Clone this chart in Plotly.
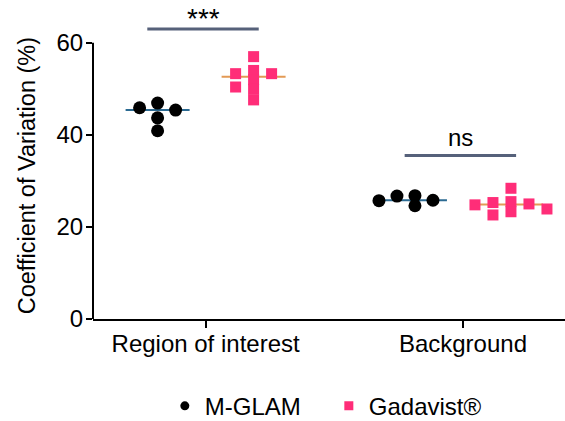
import plotly.graph_objects as go

# ---------------- data ----------------
categories = ["Region of interest", "Background"]
series_names = ["M-GLAM", "Gadavist®"]
mglam_roi = [45.9, 46.9, 45.4, 43.7, 40.9]
mglam_bg = [25.7, 26.8, 25.8, 26.7, 24.6]
gad_roi = [57.0, 54.0, 53.3, 53.3, 52.0, 50.4, 49.9, 47.6]
gad_bg = [28.4, 25.0, 25.5, 24.8, 22.6, 23.3, 23.9, 25.3]
sig_labels = ["***", "ns"]
sig_levels = [63.0, 35.5]
y_ticks = [0, 20, 40, 60]
y_title = "Coefficient of Variation (%)"

# ---------------- layout / style ----------------
W, H = 565, 421
ML, MR, MT, MB = 93, 0, 6, 102
X_RANGE = [-0.4375, 1.3965]
Y_RANGE = [0, 68]
px_x = (W - ML - MR) / (X_RANGE[1] - X_RANGE[0])
px_y = (H - MT - MB) / (Y_RANGE[1] - Y_RANGE[0])

GROUP_OFF = 48 / px_x
MED_HALF = 32 / px_x
FONT = "Liberation Sans, Arial, Helvetica, sans-serif"
FS = 24
PINK = "#FF2D78"
BLUE_LINE = "#2B6A92"
ORANGE_LINE = "#E39A55"
SIG_COLOR = "#56617A"


def swarm(vals, w=18.0, h=9.0, step=9.0):
    """Simple beeswarm: returns x offsets (data units) for each value."""
    order = sorted(range(len(vals)), key=lambda i: -vals[i])
    placed = []
    offs = [0.0] * len(vals)
    cands = [0.0]
    for k in range(1, 40):
        cands += [-k * step, k * step]
    for i in order:
        yp = vals[i] * px_y
        for c in cands:
            if all(not (abs(c - xp) < w - 1e-9 and abs(yp - yq) < h) for xp, yq in placed):
                break
        placed.append((c, yp))
        offs[i] = c / px_x
    return offs


def median(v):
    s = sorted(v)
    n = len(s)
    return s[n // 2] if n % 2 else (s[n // 2 - 1] + s[n // 2]) / 2


fig = go.Figure()

groups = [
    (0, -GROUP_OFF, mglam_roi, "circle", "black", 13, BLUE_LINE),
    (1, -GROUP_OFF, mglam_bg, "circle", "black", 13, BLUE_LINE),
    (0, GROUP_OFF, gad_roi, "square", PINK, 11, ORANGE_LINE),
    (1, GROUP_OFF, gad_bg, "square", PINK, 11, ORANGE_LINE),
]

# median lines (under the markers)
for ci, off, vals, sym, col, sz, lcol in groups:
    m = median(vals)
    cx = ci + off
    fig.add_trace(go.Scatter(x=[cx - MED_HALF, cx + MED_HALF], y=[m, m], mode="lines",
                             line=dict(color=lcol, width=2), showlegend=False, hoverinfo="skip"))

# points
for ci, off, vals, sym, col, sz, lcol in groups:
    offs = swarm(vals)
    fig.add_trace(go.Scatter(x=[ci + off + o for o in offs], y=vals, mode="markers",
                             marker=dict(symbol=sym, color=col, size=sz, line=dict(width=0)),
                             showlegend=False, cliponaxis=False))

# legend-only entries
fig.add_trace(go.Scatter(x=[None], y=[None], mode="markers", name=series_names[0],
                         marker=dict(symbol="circle", color="black", size=9)))
fig.add_trace(go.Scatter(x=[None], y=[None], mode="markers", name=series_names[1],
                         marker=dict(symbol="square", color=PINK, size=9)))

# significance bars
for ci, lab, lev in zip([0, 1], sig_labels, sig_levels):
    x0 = ci - GROUP_OFF - 0.04
    x1 = ci + GROUP_OFF + 0.02
    fig.add_trace(go.Scatter(x=[x0, x1], y=[lev, lev], mode="lines",
                             line=dict(color=SIG_COLOR, width=3), showlegend=False,
                             hoverinfo="skip"))
    fig.add_annotation(x=(x0 + x1) / 2, y=lev, text=lab, showarrow=False,
                       xref="x", yref="y", yanchor="middle",
                       yshift=11 if lab == "***" else 18,
                       font=dict(family=FONT, size=28 if lab == "***" else FS, color="black"))

# y axis line (only 0..60) and y-axis title centred on it
fig.add_shape(type="line", xref="paper", yref="y", x0=0, x1=0, y0=0, y1=60,
              line=dict(color="black", width=2))
fig.add_annotation(text=y_title, textangle=-90, showarrow=False,
                   xref="paper", x=(27 - ML) / (W - ML - MR), xanchor="center",
                   yref="y", y=(y_ticks[0] + y_ticks[-1]) / 2 + 1, yanchor="middle",
                   font=dict(family=FONT, size=23.5, color="black"))

fig.update_layout(
    width=W, height=H,
    margin=dict(l=ML, r=MR, t=MT, b=MB, autoexpand=False),
    plot_bgcolor="white", paper_bgcolor="white",
    font=dict(family=FONT, size=FS, color="black"),
    showlegend=True,
    legend=dict(orientation="h", xref="container", yref="container",
                x=0.582, xanchor="center", y=0.035, yanchor="middle",
                font=dict(family=FONT, size=24, color="black"),
                entrywidth=119, itemwidth=30),
    xaxis=dict(range=X_RANGE, tickmode="array", tickvals=[0, 1], ticktext=categories,
               showline=True, linecolor="black", linewidth=2, ticks="outside",
               ticklen=7, tickwidth=2, tickcolor="black", showgrid=False, zeroline=False,
               automargin=False, ticklabelstandoff=-5,
               tickfont=dict(family=FONT, size=FS, color="black")),
    yaxis=dict(range=Y_RANGE, tickmode="array", tickvals=y_ticks,
               showline=False, ticks="outside", ticklen=6, tickwidth=2, tickcolor="black",
               showgrid=False, zeroline=False, automargin=False, ticklabelstandoff=-2,
               tickfont=dict(family=FONT, size=FS, color="black")),
)

fig.write_html("out.html")
